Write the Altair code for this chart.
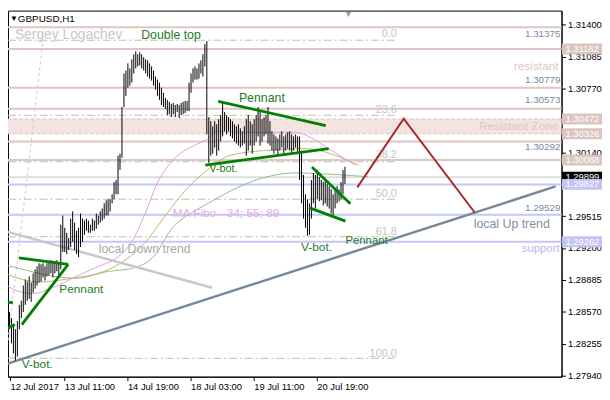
import altair as alt
import pandas as pd

W, H = 561, 371
X_DOMAIN = [6.5, 287]          # hour index (0 = 12 Jul 00:00, weekend skipped), 2 px per bar
Y_DOMAIN = [1.27932, 1.31540]
FONT = "Liberation Sans"

# ---------------- OHLC bars (H1) ----------------
bar_first_hour = 3
bar_high = [
    1.2864, 1.2868, 1.2859, 1.2854, 1.2857, 1.2851, 1.2845, 1.2840, 1.2848, 1.2864,
    1.2868, 1.2883, 1.2889, 1.2887, 1.2892, 1.2886, 1.2895, 1.2899, 1.2902, 1.2905,
    1.2904, 1.2905, 1.2902, 1.2905, 1.2907, 1.2908, 1.2905, 1.2907, 1.2908, 1.2905,
    1.2943, 1.2952, 1.2940, 1.2935, 1.2930, 1.2949, 1.2956, 1.2945, 1.2937, 1.2940,
    1.2954, 1.2949, 1.2947, 1.2949, 1.2947, 1.2943, 1.2949, 1.2947, 1.2954, 1.2952,
    1.2956, 1.2959, 1.2964, 1.2967, 1.2968, 1.2968, 1.2973, 1.2985, 1.2987, 1.3011,
    1.3013, 1.3059, 1.3092, 1.3095, 1.3102, 1.3097, 1.3106, 1.3111, 1.3114, 1.3111,
    1.3113, 1.3111, 1.3108, 1.3106, 1.3105, 1.3102, 1.3099, 1.3095, 1.3089, 1.3086,
    1.3083, 1.3078, 1.3073, 1.3068, 1.3066, 1.3064, 1.3062, 1.3063, 1.3061, 1.3062,
    1.3061, 1.3063, 1.3064, 1.3065, 1.3065, 1.3083, 1.3092, 1.3097, 1.3099, 1.3097,
    1.3102, 1.3105, 1.3111, 1.3121, 1.3124, 1.3049, 1.3045, 1.3040, 1.3045, 1.3042,
    1.3047, 1.3051, 1.3064, 1.3054, 1.3051, 1.3049, 1.3047, 1.3045, 1.3042, 1.3040,
    1.3042, 1.3038, 1.3035, 1.3040, 1.3047, 1.3051, 1.3045, 1.3042, 1.3047, 1.3051,
    1.3059, 1.3054, 1.3047, 1.3049, 1.3051, 1.3059, 1.3045, 1.3035, 1.3032, 1.3030,
    1.3028, 1.3032, 1.3035, 1.3030, 1.3032, 1.3034, 1.3035, 1.3032, 1.3030, 1.3032,
    1.3030, 1.3030, 1.3016, 1.2992, 1.2973, 1.2968, 1.2964, 1.2987, 1.2994, 1.2992,
    1.2997, 1.2990, 1.2987, 1.2985, 1.2987, 1.2983, 1.2981, 1.2978, 1.2973, 1.2978,
    1.2981, 1.2978, 1.2985, 1.2997, 1.3000,
]
bar_low = [
    1.2840, 1.2845, 1.2838, 1.2835, 1.2840, 1.2826, 1.2816, 1.2809, 1.2813, 1.2840,
    1.2851, 1.2857, 1.2864, 1.2868, 1.2870, 1.2867, 1.2876, 1.2880, 1.2883, 1.2886,
    1.2887, 1.2891, 1.2888, 1.2892, 1.2893, 1.2895, 1.2891, 1.2895, 1.2897, 1.2892,
    1.2899, 1.2916, 1.2916, 1.2914, 1.2918, 1.2921, 1.2926, 1.2918, 1.2914, 1.2911,
    1.2921, 1.2926, 1.2933, 1.2937, 1.2935, 1.2935, 1.2937, 1.2937, 1.2939, 1.2943,
    1.2945, 1.2947, 1.2949, 1.2952, 1.2952, 1.2956, 1.2964, 1.2968, 1.2973, 1.2973,
    1.2997, 1.3009, 1.3059, 1.3070, 1.3078, 1.3080, 1.3083, 1.3092, 1.3097, 1.3099,
    1.3100, 1.3097, 1.3095, 1.3092, 1.3089, 1.3087, 1.3085, 1.3080, 1.3076, 1.3070,
    1.3066, 1.3061, 1.3059, 1.3057, 1.3051, 1.3052, 1.3049, 1.3052, 1.3049, 1.3054,
    1.3048, 1.3051, 1.3052, 1.3053, 1.3055, 1.3055, 1.3073, 1.3083, 1.3086, 1.3086,
    1.3087, 1.3092, 1.3089, 1.3099, 1.3032, 1.3004, 1.3011, 1.3013, 1.3019, 1.3011,
    1.3016, 1.3025, 1.3030, 1.3035, 1.3032, 1.3035, 1.3030, 1.3028, 1.3025, 1.3023,
    1.3021, 1.3019, 1.3021, 1.3023, 1.3011, 1.3016, 1.3021, 1.3013, 1.3021, 1.3025,
    1.3030, 1.3021, 1.3025, 1.3030, 1.3032, 1.3023, 1.3021, 1.3016, 1.3013, 1.3016,
    1.3011, 1.3016, 1.3019, 1.3013, 1.3016, 1.3018, 1.3016, 1.3014, 1.3016, 1.3019,
    1.3013, 1.2987, 1.2964, 1.2949, 1.2940, 1.2932, 1.2933, 1.2949, 1.2964, 1.2959,
    1.2968, 1.2966, 1.2967, 1.2962, 1.2964, 1.2961, 1.2959, 1.2954, 1.2952, 1.2959,
    1.2964, 1.2966, 1.2968, 1.2973, 1.2983,
]

# ---------------- moving averages (34, 55, 89) ----------------
ma34_hour = [2.5, 11, 19, 29, 41, 51, 64, 69, 76, 82.5, 91, 102.5, 107.5, 112.5, 132.5, 152.5, 157.5, 169, 182.5]
ma34_price = [1.28874, 1.28779, 1.28751, 1.28808, 1.28920, 1.29008, 1.29141, 1.29255, 1.29541, 1.29855,
              1.30083, 1.30226, 1.30274, 1.30350, 1.30340, 1.30340, 1.30312, 1.30179, 1.30017]
ma55_hour = [2.5, 22.5, 36, 57.5, 76, 86, 96, 107.5, 119, 136, 157.5, 172.5, 184]
ma55_price = [1.28970, 1.28865, 1.28893, 1.28989, 1.29255, 1.29512, 1.29760, 1.29969, 1.30112, 1.30160,
              1.30179, 1.30112, 1.30017]
ma89_hour = [2.5, 12.5, 24, 41, 57.5, 69, 81, 89, 99, 107.5, 119, 136, 152.5, 166, 189]
ma89_price = [1.29046, 1.28998, 1.28941, 1.28903, 1.28970, 1.28998, 1.29131, 1.29379, 1.29541, 1.29636,
              1.29760, 1.29893, 1.29941, 1.29931, 1.29903]

# ---------------- drawn objects ----------------
pennant_hours = [[113, 167.5], [106.5, 169], [160.5, 180], [159, 177.5],
                 [12, 37], [37, 13.5], [2.5, 9], [2.5, 10]]
pennant_prices = [[1.30645, 1.30407], [1.30017, 1.30179], [1.29998, 1.29636], [1.29598, 1.29465],
                  [1.29103, 1.29038], [1.29038, 1.28445], [1.28655, 1.28665], [1.28370, 1.28446]]
up_trend_hours = [2.5, 284]
up_trend_prices = [1.28037, 1.29807]
down_trend_hours = [2.5, 110]
down_trend_prices = [1.29379, 1.28808]
forecast_hours = [183.5, 207, 243]
forecast_prices = [1.29798, 1.30474, 1.29550]

# Fibonacci retracement
fibo_levels = ["0.0", "23.6", "38.2", "50.0", "61.8", "100.0"]
fibo_prices = [1.31248, 1.30508, 1.30050, 1.29681, 1.29311, 1.28113]
fibo_text_prices = [1.31312, 1.30559, 1.30112, 1.29731, 1.29360, 1.28160]
fibo_hours = [6.5, 203.5]
fibo_diag_hours = [5.5, 24.25]
fibo_diag_prices = [1.28113, 1.31248]

# horizontal levels
pink_levels = [1.31375, 1.31162, 1.30779, 1.30573, 1.30250, 1.30068]
blue_levels = [1.29827, 1.29529, 1.29262]
zone_top, zone_bottom = 1.30472, 1.30326
current_price = 1.29899

# right-hand price boxes (drawn in this order)
box_prices = [1.31162, 1.30472, 1.30326, 1.30068, 1.29899, 1.29827, 1.29262]
box_colors = ["#dcc5c0", "#dcc5c0", "#dcc5c0", "#dcc5c0", "#000000", "#c3c3f5", "#c3c3f5"]

# axis ticks (the ones fully hidden behind price boxes are left out)
x_tick_hours = [7.5, 35, 67, 99, 131, 163]
x_tick_labels = ["12 Jul 2017", "13 Jul 11:00", "14 Jul 19:00", "18 Jul 03:00", "19 Jul 11:00", "20 Jul 19:00"]
y_tick_values = [1.27940, 1.28255, 1.28570, 1.28885, 1.29200, 1.29515,
                 1.30140, 1.30770, 1.31085, 1.31400]

# annotations: text, hour, price, colour, size
notes_left = [
    ("Sergey Logachev", 10, 1.31302, "#c8c8c8", 14),
    ("Double top", 74, 1.31302, "#1f7a1f", 12.5),
    ("Pennant", 123.5, 1.30674, "#1f7a1f", 12.5),
    ("V-bot.", 108.5, 1.29979, "#1f7a1f", 11),
    ("MA Fibo - 34; 55; 89", 90, 1.29541, "#e2ace2", 12),
    ("local Down trend", 52.5, 1.29189, "#a8a8a8", 12.5),
    ("Pennant", 177.5, 1.29265, "#1f7a1f", 11.5),
    ("V-bot.", 155, 1.29208, "#1f7a1f", 12),
    ("local Up trend", 242.5, 1.29436, "#8090a8", 12.5),
    ("Pennant", 32.5, 1.28798, "#1f7a1f", 12),
    ("V-bot.", 13.5, 1.28056, "#1f7a1f", 12),
    ("GBPUSD,H1", 11.5, 1.31455, "#000000", 10),
    ("▼", 7.5, 1.31455, "#000000", 8),
]
notes_right = [
    ("support", 286, 1.29189, "#b8b8f0", 11.5),
    ("Resistant Zone", 285.5, 1.30407, "#e0c8c4", 12),
    ("resistant", 285.5, 1.30997, "#e0c8c4", 12),
    ("1.31375", 286.5, 1.31312, "#7a88a0", 10),
    ("1.30779", 286.5, 1.30855, "#7a88a0", 10),
    ("1.30573", 286.5, 1.30655, "#7a88a0", 10),
    ("1.30292", 286.5, 1.30198, "#7a88a0", 10),
    ("1.29529", 286.5, 1.29598, "#7a88a0", 10),
]
marker_hour, marker_price = 179, 1.31505

# ---------------- build ----------------
xs = alt.Scale(domain=X_DOMAIN, nice=False, zero=False)
ys = alt.Scale(domain=Y_DOMAIN, nice=False, zero=False)

x_expr = " : ".join(f"datum.value == {v} ? '{t}'" for v, t in zip(x_tick_hours, x_tick_labels)) + " : ''"
x_axis = alt.Axis(values=x_tick_hours, labelExpr=x_expr, title=None, grid=False, tickSize=4,
                  tickColor="black", domainColor="black", labelColor="black", labelAlign="left",
                  labelBaseline="top", labelPadding=1, labelFont=FONT, labelFontSize=9.5,
                  labelFlush=False, labelOverlap=False)
y_axis = alt.Axis(values=y_tick_values, format=".5f", orient="right", title=None, grid=False,
                  tickSize=4, tickColor="black", domainColor="black", labelColor="black",
                  labelPadding=2, labelFont=FONT, labelFontSize=9.5, labelFlush=False,
                  labelOverlap=False)


def X(f, **kw):
    return alt.X(f, type="quantitative", scale=xs, axis=x_axis, **kw)


def Y(f, **kw):
    return alt.Y(f, type="quantitative", scale=ys, axis=y_axis, **kw)


bars_df = pd.DataFrame({"hour": list(range(bar_first_hour, bar_first_hour + len(bar_high))),
                        "high": bar_high, "low": bar_low})

layers = []

# resistant zone band
zone_df = pd.DataFrame({"top": [zone_top], "bottom": [zone_bottom]})
layers.append(alt.Chart(zone_df).mark_rect(color="#f3e3e1").encode(y=Y("top"), y2="bottom"))
layers.append(alt.Chart(pd.DataFrame({"p": [zone_top, zone_bottom]})).mark_rule(
    color="#dcc5c0", strokeDash=[4, 2], strokeWidth=1).encode(y=Y("p")))

# horizontal levels
layers.append(alt.Chart(pd.DataFrame({"p": pink_levels})).mark_rule(
    color="#dfc6c0", strokeWidth=2).encode(y=Y("p")))
layers.append(alt.Chart(pd.DataFrame({"p": blue_levels})).mark_rule(
    color="#c6c6fa", strokeWidth=2).encode(y=Y("p")))
layers.append(alt.Chart(pd.DataFrame({"p": [current_price]})).mark_rule(
    color="#c0c0c0", strokeWidth=1).encode(y=Y("p")))

# fibo levels
fibo_df = pd.DataFrame({"p": fibo_prices, "x0": fibo_hours[0], "x1": fibo_hours[1],
                        "lbl": fibo_levels, "tp": fibo_text_prices})
layers.append(alt.Chart(fibo_df).mark_rule(color="#bdbdbd", strokeDash=[8, 3, 2, 3], strokeWidth=1).encode(
    x=X("x0"), x2="x1", y=Y("p")))
layers.append(alt.Chart(fibo_df).mark_text(align="right", baseline="middle", font=FONT, fontSize=11,
                                           color="#c4c4c4").encode(x=X("x1"), y=Y("tp"), text="lbl:N"))
fd = pd.DataFrame({"h": fibo_diag_hours, "p": fibo_diag_prices})
layers.append(alt.Chart(fd).mark_line(color="#c8c8c8", strokeDash=[3, 3], strokeWidth=1, clip=True).encode(
    x=X("h"), y=Y("p")))

# MAs
for hrs, prs, col in [(ma89_hour, ma89_price, "#8fbc8f"), (ma55_hour, ma55_price, "#bdb76b"),
                      (ma34_hour, ma34_price, "#dda0dd")]:
    layers.append(alt.Chart(pd.DataFrame({"h": hrs, "p": prs})).mark_line(
        color=col, strokeWidth=1, interpolate="monotone", clip=True).encode(x=X("h"), y=Y("p")))

# trend lines
layers.append(alt.Chart(pd.DataFrame({"h": down_trend_hours, "p": down_trend_prices})).mark_line(
    color="#c8c8c8", strokeWidth=2.5, clip=True).encode(x=X("h"), y=Y("p")))
layers.append(alt.Chart(pd.DataFrame({"h": up_trend_hours, "p": up_trend_prices})).mark_line(
    color="#778899", strokeWidth=2.5, clip=True).encode(x=X("h"), y=Y("p")))

# price bars
layers.append(alt.Chart(bars_df).mark_rule(color="black", strokeWidth=1, xOffset=0.5, clip=True).encode(
    x=X("hour"), y=Y("high"), y2="low"))

# pennants
pen_rows = []
for k, (hh, pp) in enumerate(zip(pennant_hours, pennant_prices)):
    for h, p in zip(hh, pp):
        pen_rows.append({"seg": k, "h": h, "p": p})
layers.append(alt.Chart(pd.DataFrame(pen_rows)).mark_line(color="#008000", strokeWidth=2.8, clip=True).encode(
    x=X("h"), y=Y("p"), detail="seg:N"))

# forecast zigzag
layers.append(alt.Chart(pd.DataFrame({"h": forecast_hours, "p": forecast_prices})).mark_line(
    color="#a52a2a", strokeWidth=2).encode(x=X("h"), y=Y("p")))

# annotations
nl = pd.DataFrame(notes_left, columns=["t", "h", "p", "c", "s"])
nr = pd.DataFrame(notes_right, columns=["t", "h", "p", "c", "s"])
layers.append(alt.Chart(nl).mark_text(align="left", baseline="middle", font=FONT).encode(
    x=X("h"), y=Y("p"), text="t:N", color=alt.Color("c:N", scale=None), size=alt.Size("s:Q", scale=None)))
layers.append(alt.Chart(nr).mark_text(align="right", baseline="middle", font=FONT).encode(
    x=X("h"), y=Y("p"), text="t:N", color=alt.Color("c:N", scale=None), size=alt.Size("s:Q", scale=None)))
layers.append(alt.Chart(pd.DataFrame({"h": [marker_hour], "p": [marker_price], "t": ["▼"]})).mark_text(
    align="center", baseline="middle", fontSize=9, color="#a0a0a0").encode(x=X("h"), y=Y("p"), text="t:N"))

# price boxes on the right axis, one after the other so later ones cover earlier ones
for bp, bc in zip(box_prices, box_colors):
    bdf = pd.DataFrame({"p": [bp], "c": [bc], "t": [f"{bp:.5f}"]})
    layers.append(alt.Chart(bdf).mark_tick(orient="horizontal", thickness=11, size=41, opacity=1).encode(
        x=alt.value(582), y=Y("p"), color=alt.Color("c:N", scale=None)))
    layers.append(alt.Chart(bdf).mark_text(align="left", baseline="middle", font=FONT, fontSize=9.5,
                                           color="white").encode(x=alt.value(565), y=Y("p"), text="t:N"))

chart = alt.layer(*layers).properties(
    width=W, height=H,
    autosize=alt.AutoSizeParams(type="none"),
    padding={"left": 0, "top": 0, "right": 41, "bottom": 21},
    background="white",
).configure_view(stroke="black", strokeWidth=1)

chart.save("out.html", embed_options={"renderer": "svg", "actions": False})
